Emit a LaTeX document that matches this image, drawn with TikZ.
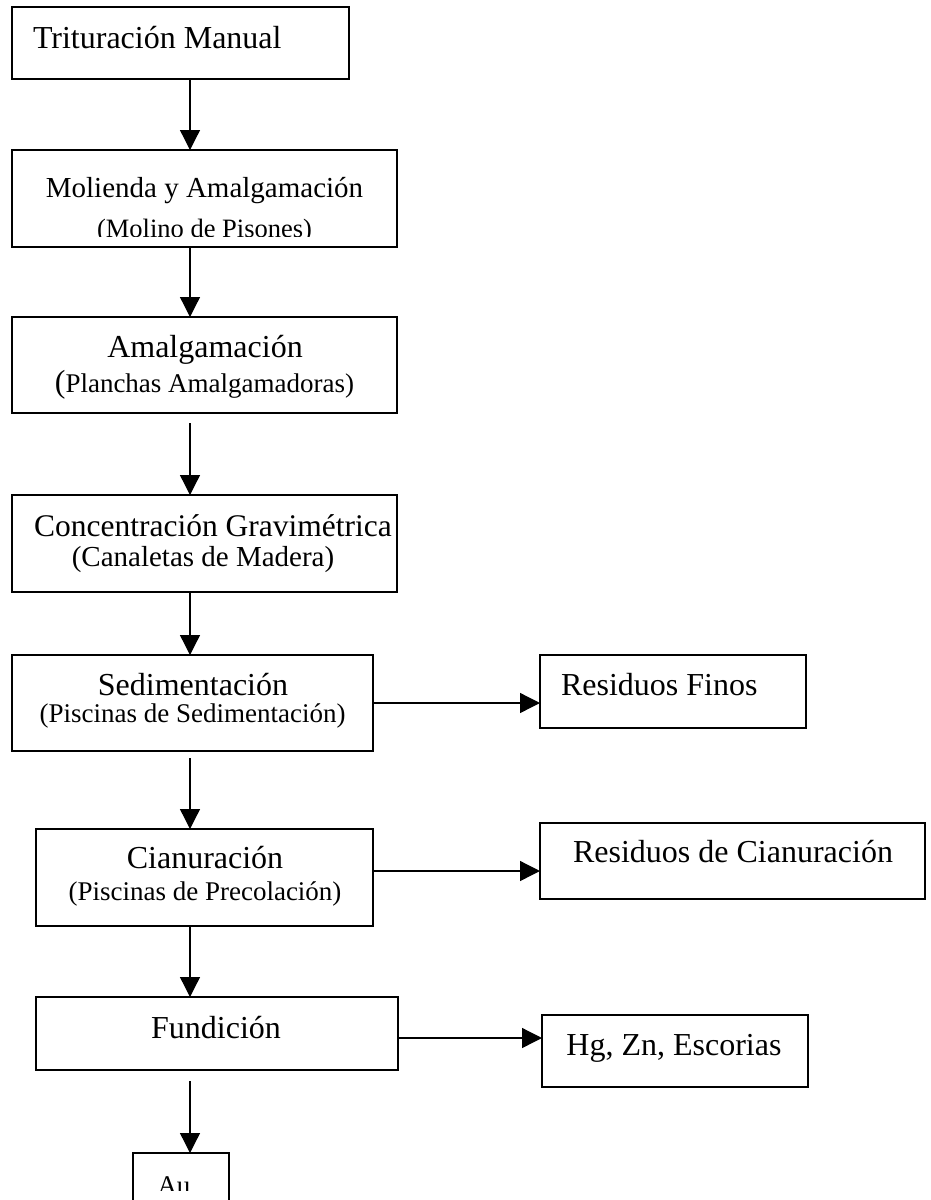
\documentclass[tikz,border=0pt]{standalone}
\usepackage{fontspec}
\setmainfont{Liberation Serif}
\usetikzlibrary{arrows.meta}
\newcommand{\tam}[1]{\fontsize{#1}{#1}\selectfont}

\begin{document}
\begin{tikzpicture}[x=1pt,y=-1pt]
	\tikzstyle{every node}+=[inner sep=0pt, outer sep=0pt]
	\tikzstyle{caja}=[draw, black, line width=1.5pt, rectangle]
	\tikzstyle{flecha}=[black, line width=1.3pt, -{Triangle[length=20pt,width=20pt]}]
	\useasboundingbox (0,0) rectangle (930,1200);
	\coordinate (eje) at (190,0);
	% cajas del proceso
	\node [caja, minimum width=337pt, minimum height=72pt] (trit) at (180.5,43) {};
	\node [anchor=base west] (ttrit) at (33,48) {\tam{32}Trituración Manual};
	\node [caja, minimum width=385pt, minimum height=97pt] (mol) at (204.5,198.5) {};
	\node [anchor=base] (tmol) at (204.5,197) {\tam{29}Molienda y Amalgamación};
	\begin{scope}
		\clip (12,150) rectangle (397,236);
		\node [anchor=base] (tmolb) at (204.5,237) {\tam{26.5}(Molino de Pisones)};
	\end{scope}
	\node [caja, minimum width=385pt, minimum height=96pt] (amal) at (204.5,365) {};
	\node [anchor=base] (tamal) at (205,357) {\tam{32}Amalgamación};
	\node [anchor=base] (tamalb) at (204.5,392) {\tam{27}{\tam{32}(}Planchas Amalgamadoras)};
	\node [caja, minimum width=385pt, minimum height=97pt] (conc) at (204.5,543.5) {};
	\node [anchor=base] (tconc) at (213,536) {\tam{31.5}Concentración Gravimétrica};
	\node [anchor=base] (tconcb) at (203,566) {\tam{29}(Canaletas de Madera)};
	\node [caja, minimum width=361pt, minimum height=96pt] (sed) at (192.5,703) {};
	\node [anchor=base] (tsed) at (193,695) {\tam{32}Sedimentación};
	\node [anchor=base] (tsedb) at (192.5,722) {\tam{27}(Piscinas de Sedimentación)};
	\node [caja, minimum width=337pt, minimum height=97pt] (cian) at (204.5,877.5) {};
	\node [anchor=base] (tcian) at (205,868) {\tam{32}Cianuración};
	\node [anchor=base] (tcianb) at (205,900) {\tam{27}(Piscinas de Precolación)};
	\node [caja, minimum width=362pt, minimum height=73pt] (fund) at (217,1033.5) {};
	\node [anchor=base] (tfund) at (216,1038) {\tam{32}Fundición};
	\node [caja, minimum width=96pt, minimum height=62pt] (au) at (181,1184) {};
	\begin{scope}
		\clip (133,1153) rectangle (229,1190);
		\node [anchor=base] (tau) at (174,1194) {\tam{27}Au};
	\end{scope}
	% residuos
	\node [caja, minimum width=266pt, minimum height=73pt] (finos) at (673,691.5) {};
	\node [anchor=base west] (tfinos) at (561,695) {\tam{32}Residuos Finos};
	\node [caja, minimum width=385pt, minimum height=76pt] (rescian) at (732.5,861) {};
	\node [anchor=base] (trescian) at (733,862) {\tam{32}Residuos de Cianuración};
	\node [caja, minimum width=266pt, minimum height=72pt] (hg) at (675,1051) {};
	\node [anchor=base] (thg) at (674,1055) {\tam{32}Hg, Zn, Escorias};
	% flechas
	\draw [flecha] (trit.south -| eje) -- (mol.north -| eje);
	\draw [flecha] (mol.south -| eje) -- (amal.north -| eje);
	\draw [flecha, shorten <=10pt] (amal.south -| eje) -- (conc.north -| eje);
	\draw [flecha] (conc.south -| eje) -- (sed.north -| eje);
	\draw [flecha, shorten <=7pt] (sed.south -| eje) -- (cian.north -| eje);
	\draw [flecha] (cian.south -| eje) -- (fund.north -| eje);
	\draw [flecha, shorten <=11pt] (fund.south -| eje) -- (au.north -| eje);
	\coordinate (scian) at ([yshift=6.5pt]cian.east);
	\coordinate (sfund) at ([yshift=-4.5pt]fund.east);
	\draw [flecha] (sed.east) -- (sed.east -| finos.west);
	\draw [flecha] (scian) -- (scian -| rescian.west);
	\draw [flecha] (sfund) -- (sfund -| hg.west);
\end{tikzpicture}
\end{document}
